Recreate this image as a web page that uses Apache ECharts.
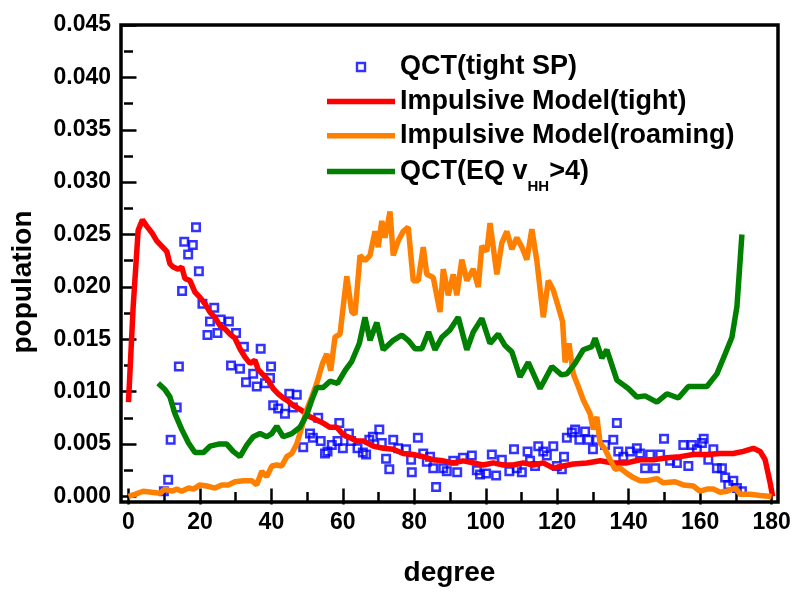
<!DOCTYPE html>
<html>
<head>
<meta charset="utf-8">
<script src="https://cdn.jsdelivr.net/npm/echarts@6/dist/echarts.min.js"></script>
<style>html,body{margin:0;padding:0;background:#fff;}#c{width:796px;height:592px;}</style>
</head>
<body>
<div id="c"></div>
<script>
// ---- data (degree, population) ----
const qctTightSP = [[9.9,0.0005],[11.1,0.0016],[11.8,0.0054],[13.5,0.0085],[14.1,0.0124],[15,0.0196],[15.6,0.0243],[16.7,0.0231],[18,0.0240],[18.9,0.0257],[19.7,0.0215],[20.7,0.0184],[22.1,0.0154],[22.8,0.0167],[24,0.0180],[24.9,0.0156],[25.8,0.0169],[28.1,0.0167],[28.7,0.0125],[30.1,0.0156],[31.2,0.0122],[32.3,0.0143],[32.9,0.0109],[34.9,0.0117],[35.9,0.0105],[37,0.0141],[38.2,0.0108],[39.6,0.0113],[39.9,0.0124],[40.5,0.0087],[41.9,0.0084],[43.8,0.0079],[45,0.0098],[46,0.0085],[47.1,0.0097],[48.9,0.0047],[50.8,0.0060],[51.6,0.0056],[53.1,0.0075],[53.8,0.0053],[55,0.0041],[55.7,0.0043],[56.9,0.0049],[58.5,0.0053],[59,0.0070],[60,0.0046],[61.7,0.0060],[62.3,0.0053],[64.1,0.0046],[65.6,0.0042],[66.5,0.0040],[67.4,0.0054],[68.4,0.0057],[70.2,0.0064],[70.9,0.0051],[72.1,0.0036],[73,0.0026],[74.1,0.0054],[75.5,0.0046],[77.7,0.0045],[79.1,0.0035],[79.3,0.0023],[81,0.0056],[82.5,0.0041],[83.5,0.0033],[84.4,0.0038],[85.3,0.0027],[86.1,0.0009],[88.1,0.0027],[89.1,0.0024],[90.9,0.0034],[92,0.0023],[93.6,0.0037],[96.1,0.0039],[97.5,0.0025],[98.4,0.0021],[100.1,0.0022],[101.7,0.0040],[102.9,0.0020],[104.5,0.0035],[106.6,0.0024],[107.9,0.0045],[108.7,0.0027],[110.1,0.0023],[111.7,0.0043],[112.4,0.0034],[113.8,0.0029],[114.7,0.0048],[116.1,0.0043],[117.1,0.0039],[118.9,0.0048],[119.9,0.0029],[121.3,0.0026],[121.9,0.0038],[122.7,0.0056],[124.1,0.0061],[125,0.0064],[126.2,0.0054],[127.8,0.0062],[128.7,0.0054],[130,0.0045],[131.1,0.0054],[133.4,0.0049],[135.7,0.0054],[136.7,0.0070],[137.1,0.0043],[138.5,0.0038],[140.4,0.0043],[142.3,0.0046],[143.2,0.0041],[144.6,0.0027],[146,0.0040],[147.4,0.0027],[148.8,0.0040],[149.9,0.0055],[151.6,0.0034],[153.5,0.0032],[155.3,0.0049],[156.7,0.0029],[157.7,0.0049],[159.1,0.0045],[160.5,0.0051],[161,0.0055],[162.3,0.0035],[163.7,0.0045],[164.7,0.0027],[166.1,0.0027],[167,0.0018],[167.9,0.0011],[169.3,0.0015],[170.3,0.0008],[171.7,0.0005]];

const impulsiveTight = [[0,0.0090],[1.3,0.0181],[2.7,0.0254],[3.9,0.0264],[5.1,0.0258],[6.5,0.0252],[7.9,0.0244],[9.3,0.0239],[10.7,0.0234],[11.6,0.0222],[12.5,0.0219],[13.9,0.0217],[14.9,0.0219],[15.8,0.0208],[17.2,0.0206],[18.6,0.0195],[20,0.0190],[21.4,0.0184],[22.8,0.0176],[24.2,0.0171],[25.6,0.0163],[27,0.0160],[28.4,0.0155],[29.8,0.0151],[31.2,0.0141],[32.6,0.0133],[34,0.0127],[35.4,0.0130],[36.3,0.0121],[37.7,0.0116],[39.1,0.0111],[40.5,0.0103],[41.9,0.0098],[43.3,0.0094],[44.7,0.0091],[46.1,0.0087],[47.5,0.0084],[49,0.0081],[50.8,0.0076],[52.7,0.0073],[54.5,0.0070],[56.4,0.0066],[58.3,0.0066],[60.1,0.0059],[62,0.0056],[63.9,0.0053],[65.7,0.0053],[68.5,0.0048],[71.3,0.0046],[74.1,0.0045],[76.9,0.0041],[79.7,0.0040],[82.5,0.0038],[85.3,0.0035],[88.1,0.0034],[90.9,0.0032],[93.7,0.0034],[96.5,0.0032],[99.3,0.0030],[102.1,0.0032],[104.9,0.0030],[107.7,0.0030],[110.5,0.0032],[113.3,0.0030],[116.1,0.0032],[118.9,0.0027],[121.7,0.0029],[124.5,0.0031],[128.3,0.0032],[132,0.0034],[135.7,0.0032],[139.5,0.0032],[143.2,0.0035],[146.9,0.0035],[150.7,0.0037],[154.4,0.0038],[158.1,0.0040],[161.9,0.0040],[165.6,0.0041],[169.3,0.0041],[172.1,0.0043],[174.9,0.0046],[176.8,0.0043],[178.2,0.0035],[179.6,0.0013],[180.3,0.0000]];

const impulsiveRoaming = [[0,0.0000],[1.8,0.0002],[4.1,0.0005],[6.5,0.0004],[8.8,0.0003],[10.2,0.0007],[12.1,0.0005],[13.5,0.0007],[14.9,0.0005],[16.8,0.0008],[18.2,0.0007],[20,0.0011],[21.9,0.0010],[24.2,0.0008],[26.1,0.0011],[27.9,0.0011],[29.8,0.0014],[32.2,0.0015],[34.5,0.0015],[35.9,0.0011],[37.3,0.0024],[38.7,0.0019],[40.1,0.0029],[41.5,0.0030],[42.9,0.0029],[44.3,0.0038],[45.7,0.0041],[47.1,0.0050],[48.5,0.0066],[49.9,0.0083],[51.3,0.0095],[52.7,0.0108],[54.3,0.0127],[55.5,0.0136],[56.6,0.0120],[57.8,0.0152],[59.2,0.0155],[61.1,0.0210],[62.5,0.0176],[63.4,0.0174],[64.8,0.0230],[66.2,0.0225],[67.6,0.0230],[69,0.0253],[69.9,0.0238],[70.9,0.0263],[71.8,0.0247],[73.2,0.0272],[74.1,0.0230],[75.5,0.0244],[76.9,0.0253],[78.3,0.0257],[79.7,0.0206],[81.1,0.0206],[82.5,0.0238],[83.5,0.0212],[85.3,0.0209],[87.2,0.0176],[88.1,0.0217],[89.5,0.0192],[90.9,0.0212],[91.9,0.0192],[93.3,0.0226],[94.7,0.0206],[96.5,0.0217],[97.9,0.0200],[98.9,0.0239],[100.3,0.0234],[101.2,0.0261],[103.1,0.0212],[104.5,0.0242],[105.9,0.0253],[107.3,0.0236],[108.7,0.0247],[110.1,0.0238],[111.5,0.0226],[112.9,0.0255],[114.3,0.0225],[116.1,0.0171],[117.5,0.0206],[118.9,0.0197],[120.3,0.0181],[121.5,0.0167],[122.2,0.0128],[123.3,0.0146],[124.5,0.0117],[125.9,0.0105],[127.3,0.0092],[129.2,0.0079],[130.1,0.0064],[131.1,0.0076],[132,0.0051],[133.4,0.0045],[134.8,0.0035],[136.2,0.0026],[137.6,0.0027],[139.5,0.0022],[141.3,0.0018],[143.2,0.0015],[145.1,0.0015],[147.9,0.0017],[149.7,0.0013],[153,0.0014],[155.3,0.0011],[158.1,0.0010],[160,0.0005],[161.9,0.0007],[163.7,0.0007],[165.6,0.0004],[167.5,0.0005],[169.8,0.0008],[171.2,0.0002],[174,0.0002],[176.8,0.0001],[180,0.0000]];

const qctEQ = [[8.3,0.0108],[10.2,0.0102],[11.6,0.0095],[13,0.0079],[14.9,0.0064],[16.8,0.0051],[18.6,0.0042],[21,0.0042],[22.8,0.0048],[25.2,0.0050],[27.5,0.0050],[29.3,0.0043],[31.2,0.0038],[33.1,0.0049],[34.9,0.0057],[36.8,0.0060],[38.7,0.0057],[40.1,0.0060],[41.5,0.0067],[43.3,0.0057],[45.7,0.0060],[48,0.0066],[49.9,0.0078],[51.3,0.0092],[52.7,0.0104],[54.5,0.0104],[56.4,0.0110],[58.5,0.0108],[60.6,0.0120],[62.5,0.0129],[64.6,0.0146],[66.2,0.0171],[67.6,0.0149],[69.5,0.0166],[71.3,0.0140],[74.1,0.0149],[76.5,0.0154],[78.3,0.0149],[80.2,0.0141],[82.1,0.0141],[84,0.0157],[85.8,0.0140],[87.7,0.0152],[90,0.0159],[92.3,0.0171],[94.7,0.0140],[96.5,0.0157],[98.9,0.0170],[101.2,0.0146],[103.5,0.0155],[105.4,0.0144],[107.3,0.0138],[109.6,0.0114],[111.9,0.0128],[115.2,0.0103],[118.5,0.0124],[121.2,0.0116],[122.7,0.0117],[125,0.0127],[127.3,0.0140],[129.7,0.0143],[130.6,0.0151],[132.5,0.0132],[133.9,0.0140],[136.7,0.0111],[139.9,0.0103],[142.3,0.0095],[144.6,0.0096],[147.9,0.0090],[150.7,0.0098],[153.9,0.0094],[156.7,0.0105],[161.9,0.0105],[164.7,0.0117],[167,0.0136],[168.9,0.0152],[170.3,0.0181],[171.7,0.0250]];

const seriesNames = ['QCT(tight SP)', 'Impulsive Model(tight)', 'Impulsive Model(roaming)', 'QCT(EQ v_HH>4)'];
const xMajorTicks = [0, 20, 40, 60, 80, 100, 120, 140, 160, 180];
const xMinorTicks = [10, 30, 50, 70, 90, 110, 130, 150, 170];
const yMajorTicks = [0, 0.005, 0.010, 0.015, 0.020, 0.025, 0.030, 0.035, 0.040, 0.045];
const yMinorTicks = [0.0025, 0.0075, 0.0125, 0.0175, 0.0225, 0.0275, 0.0325, 0.0375, 0.0425];

const FONT = 'Liberation Sans';
const X_MIN = -2.1, X_MAX = 181.8, Y_MIN = -0.00053, Y_MAX = 0.045;
const LINE_ICON = 'path://M0,0H68V5.5H0Z';
const SQUARE_ICON = 'path://M0,0H10V10H0Z';

function axis(kind, position, ticks, len, labels, extra) {
  const a = {
    type: 'value', position: position,
    min: kind === 'x' ? X_MIN : Y_MIN,
    max: kind === 'x' ? X_MAX : Y_MAX,
    axisLine: { show: false },
    splitLine: { show: false },
    axisTick: { show: true, inside: true, length: len, customValues: ticks, lineStyle: { color: '#000', width: 2.5 } },
    axisLabel: labels ? {
      show: true, customValues: ticks, color: '#000', fontFamily: FONT, fontWeight: 'bold', fontSize: 23,
      margin: kind === 'x' ? 9 : 10,
      formatter: kind === 'x' ? (v => String(Math.round(v))) : (v => v.toFixed(3))
    } : { show: false }
  };
  return Object.assign(a, extra || {});
}

const legendText = {
  color: '#000', fontFamily: FONT, fontWeight: 'bold', fontSize: 27, lineHeight: 27,
  rich: { sub: { fontFamily: FONT, fontWeight: 'bold', fontSize: 15, lineHeight: 27, padding: [30, 0, 0, 0], color: '#000' } }
};

const chart = echarts.init(document.getElementById('c'), null, { renderer: 'canvas' });
chart.setOption({
  animation: false,
  backgroundColor: '#fff',
  grid: { left: 121, right: 18, top: 25, bottom: 86, show: true, borderColor: '#000', borderWidth: 3.5, backgroundColor: 'transparent' },
  legend: [
    {
      orient: 'vertical', left: 327, top: 53.5, padding: 0, symbolKeepAspect: true,
      itemWidth: 68, itemHeight: 8, itemGap: 7.4,
      textStyle: legendText,
      data: [
        { name: seriesNames[0], icon: SQUARE_ICON, itemStyle: { color: 'rgba(255,255,255,0)', borderColor: '#0000ff', borderWidth: 2.4 } },
        { name: seriesNames[1], icon: LINE_ICON },
        { name: seriesNames[2], icon: LINE_ICON }
      ]
    },
    {
      orient: 'vertical', left: 327, top: 149, padding: 0, symbolKeepAspect: true,
      itemWidth: 68, itemHeight: 8,
      textStyle: legendText,
      formatter: () => 'QCT(EQ v{sub|HH}>4)',
      data: [{ name: seriesNames[3], icon: LINE_ICON }]
    }
  ],
  xAxis: [
    axis('x', 'bottom', xMajorTicks, 8, true, {
      name: 'degree', nameLocation: 'middle', nameGap: 57,
      nameTextStyle: { color: '#000', fontFamily: FONT, fontWeight: 'bold', fontSize: 28 }
    }),
    axis('x', 'bottom', xMinorTicks, 4.5, false),
    axis('x', 'top', xMajorTicks, 8, false),
    axis('x', 'top', xMinorTicks, 4.5, false)
  ],
  yAxis: [
    axis('y', 'left', yMajorTicks, 8, true, {
      name: 'population', nameLocation: 'middle', nameGap: 84,
      nameTextStyle: { color: '#000', fontFamily: FONT, fontWeight: 'bold', fontSize: 28, padding: [0, 37, 0, 0] }
    }),
    axis('y', 'left', yMinorTicks, 4.5, false),
    axis('y', 'right', yMajorTicks, 8, false),
    axis('y', 'right', yMinorTicks, 4.5, false)
  ],
  series: [
    { name: seriesNames[0], type: 'scatter', data: qctTightSP, symbol: 'rect', symbolSize: 7.5,
      itemStyle: { color: 'rgba(255,255,255,0)', borderColor: '#0000ff', borderWidth: 2.5 }, z: 2 },
    { name: seriesNames[1], type: 'line', data: impulsiveTight, showSymbol: false, symbol: 'none',
      lineStyle: { color: '#ff0000', width: 5.5 }, itemStyle: { color: '#ff0000' }, z: 3 },
    { name: seriesNames[2], type: 'line', data: impulsiveRoaming, showSymbol: false, symbol: 'none',
      lineStyle: { color: '#ff8000', width: 5.5 }, itemStyle: { color: '#ff8000' }, z: 3 },
    { name: seriesNames[3], type: 'line', data: qctEQ, showSymbol: false, symbol: 'none',
      lineStyle: { color: '#008000', width: 5.5 }, itemStyle: { color: '#008000' }, z: 3 }
  ]
});
</script>
</body>
</html>
